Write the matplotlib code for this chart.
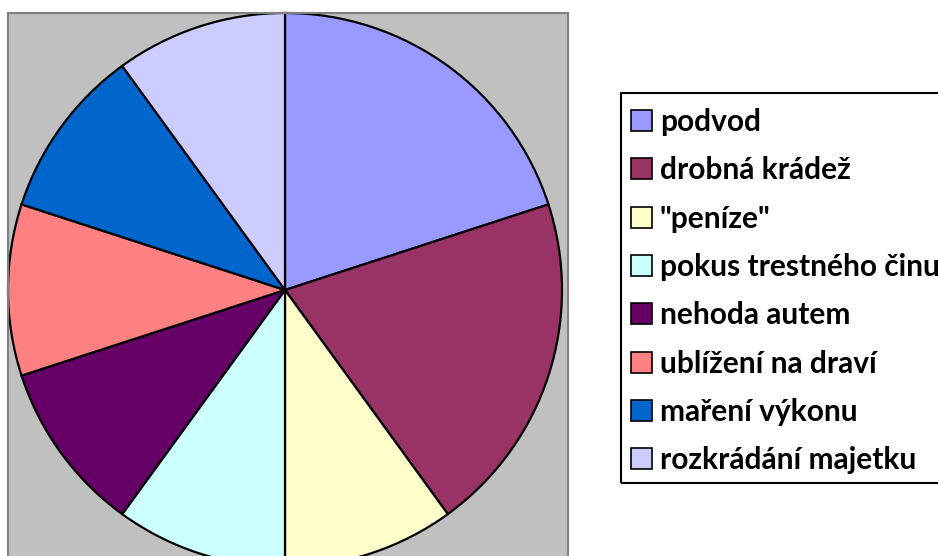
import matplotlib
matplotlib.use("Agg")
import matplotlib.pyplot as plt
from matplotlib.patches import Patch, Rectangle

labels = ["podvod", "drobná krádež", "\"peníze\"", "pokus trestného činu",
          "nehoda autem", "ublížení na draví", "maření výkonu", "rozkrádání majetku"]
values = [2, 2, 1, 1, 1, 1, 1, 1]
colors = ["#9999FF", "#993366", "#FFFFCC", "#CCFFFF",
          "#660066", "#FF8080", "#0066CC", "#CCCCFF"]

W, H = 938, 556
fig = plt.figure(figsize=(W / 100, H / 100), dpi=100)
fig.patch.set_facecolor("white")

# plot area (grey), pixel-aligned; bottom is cropped by the figure edge
x0, x1, ytop = 8, 568, 13
ax = fig.add_axes([x0 / W, 0, (x1 - x0) / W, (H - ytop) / H])
ax.set_facecolor("#C0C0C0")
ax.pie(values, colors=colors, startangle=90, counterclock=False,
       center=(285, H - 290), radius=277, frame=True,
       wedgeprops=dict(edgecolor="black", linewidth=1.6))
ax.set_xlim(x0, x1); ax.set_ylim(0, H - ytop)
ax.set_aspect("equal", adjustable="box")
ax.set_xticks([]); ax.set_yticks([])
for s in ("left", "right", "top"):
    ax.spines[s].set_color("#808080"); ax.spines[s].set_linewidth(1.5)
ax.spines["bottom"].set_visible(False)

# legend entries without frame; the box is drawn separately (runs off the right edge)
fs = 21.5
handles = [Patch(facecolor=c, edgecolor="black", linewidth=1.2) for c in colors]
leg = fig.legend(handles, labels, loc="upper left",
                 bbox_to_anchor=(631 / W, 1 - 108 / H),
                 prop=dict(family="Lato", weight="bold", size=fs),
                 frameon=False,
                 handlelength=0.7, handleheight=0.7, handletextpad=0.27,
                 labelspacing=0.68, borderpad=0, borderaxespad=0)
fig.add_artist(Rectangle((621 / W, 1 - 483 / H), (945 - 621) / W, (483 - 93) / H,
                         transform=fig.transFigure, fill=False,
                         edgecolor="black", linewidth=1.5))

fig.savefig("out.png", dpi=100)
